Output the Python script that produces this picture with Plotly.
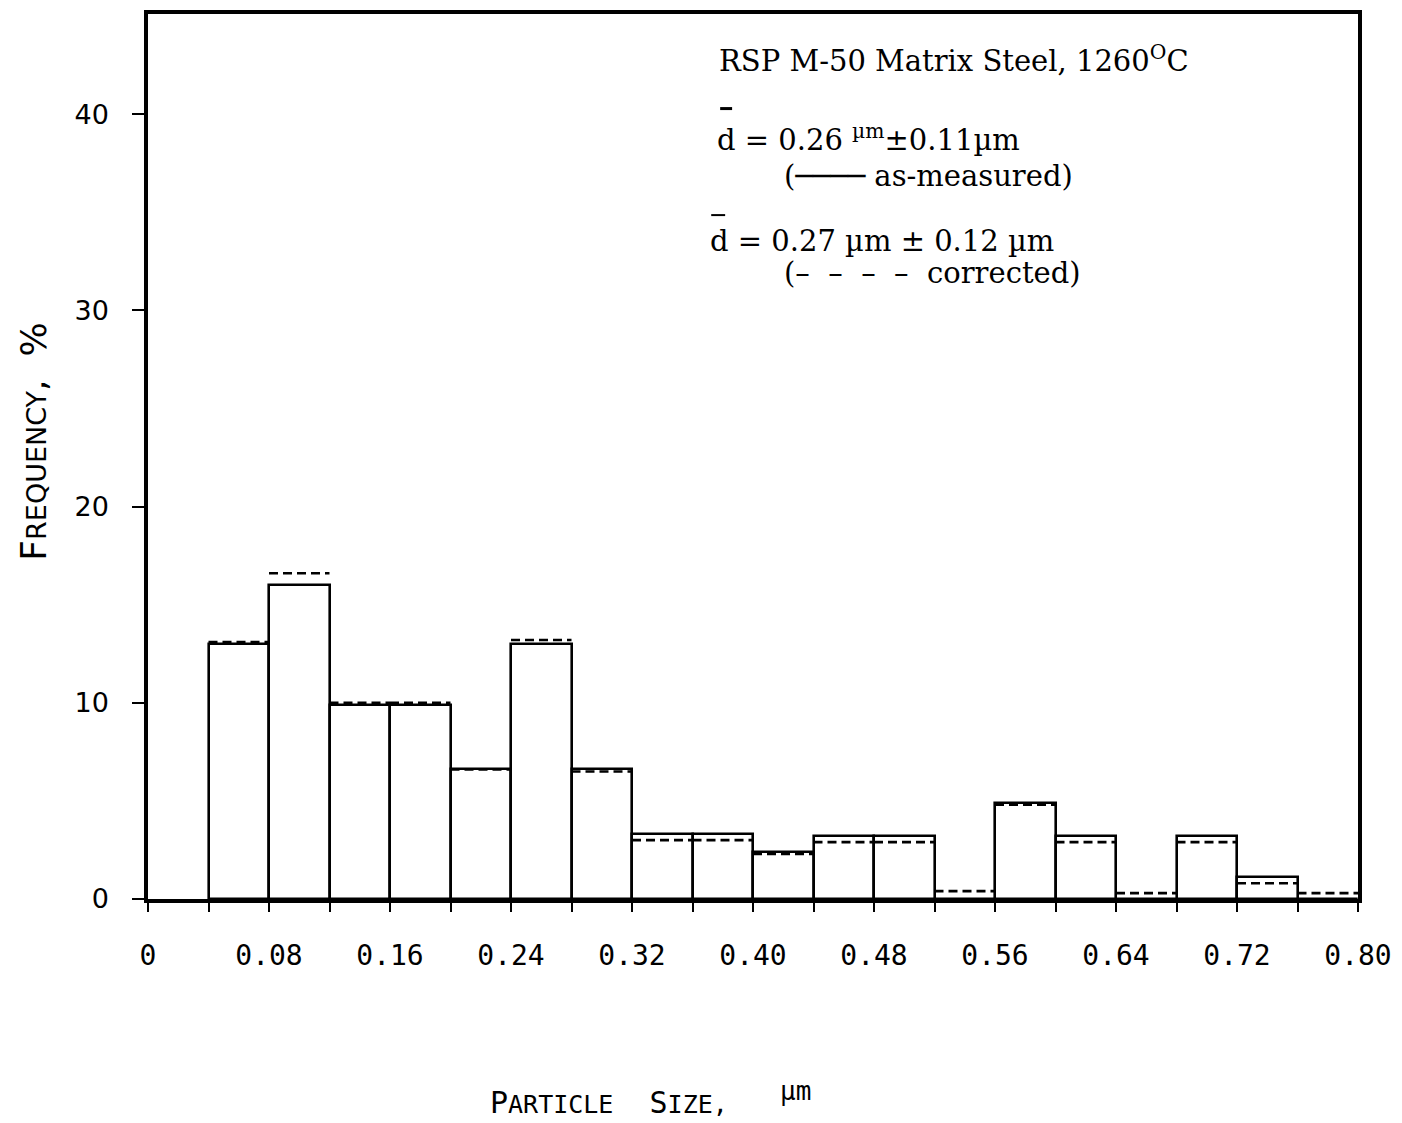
import plotly.graph_objects as go

# ---------------- data ----------------
bin_left = [0.04, 0.08, 0.12, 0.16, 0.20, 0.24, 0.28, 0.32, 0.36, 0.40,
            0.44, 0.48, 0.52, 0.56, 0.60, 0.64, 0.68, 0.72, 0.76]
bin_width = 0.04
as_measured = [13.0, 16.0, 9.9, 9.9, 6.6, 13.0, 6.6, 3.3, 3.3, 2.4,
               3.2, 3.2, 0.0, 4.9, 3.2, 0.0, 3.2, 1.1, 0.0]
corrected = [13.1, 16.6, 10.0, 10.0, 6.6, 13.2, 6.5, 3.0, 3.0, 2.3,
             2.9, 2.9, 0.4, 4.8, 2.9, 0.3, 2.9, 0.8, 0.3]
x_tick_vals = [0, 0.08, 0.16, 0.24, 0.32, 0.40, 0.48, 0.56, 0.64, 0.72, 0.80]
x_tick_text = ["0", "0.08", "0.16", "0.24", "0.32", "0.40", "0.48", "0.56", "0.64", "0.72", "0.80"]
y_tick_vals = [0, 10, 20, 30, 40]
y_tick_text = ["0", "10", "20", "30", "40"]

# ---------------- figure ----------------
W, H = 1402, 1123
L, R, T, B = 148, 1402 - 1364, 10, 1123 - 899

def px(x):
    return (x - L) / (W - L - R)

def py(y):
    return (899 - y) / (H - T - B)

centers = [l + bin_width / 2 for l in bin_left]

fig = go.Figure()
fig.add_trace(go.Bar(
    x=centers, y=as_measured, width=[bin_width] * len(centers),
    marker=dict(color="white", line=dict(color="black", width=2.6)),
    showlegend=False, hoverinfo="skip",
))

seg_x, seg_y = [], []
for l, v in zip(bin_left, corrected):
    seg_x += [l, l + bin_width, None]
    seg_y += [v, v, None]
fig.add_trace(go.Scatter(
    x=seg_x, y=seg_y, mode="lines",
    line=dict(color="black", width=2.6, dash="9px,5px"),
    showlegend=False, hoverinfo="skip",
))

serif = "DejaVu Serif, serif"
sansmono = "DejaVu Sans Mono, monospace"
narrow = "Liberation Sans Narrow, DejaVu Sans, sans-serif"

annotations = [
    dict(text="RSP M-50 Matrix Steel, 1260<sup>O</sup>C", x=px(720), y=py(55),
         xanchor="left", yanchor="middle", font=dict(family=serif, size=29)),
    dict(text="d = 0.26 <sup>µm</sup>±0.11µm", x=px(718), y=py(135),
         xanchor="left", yanchor="middle", font=dict(family=serif, size=29)),
    dict(text="(──── as-measured)", x=px(785), y=py(173),
         xanchor="left", yanchor="middle", font=dict(family=serif, size=29)),
    dict(text="d = 0.27 µm ± 0.12 µm", x=px(711), y=py(238),
         xanchor="left", yanchor="middle", font=dict(family=serif, size=29)),
    dict(text="(–  –  –  –  corrected)", x=px(785), y=py(270),
         xanchor="left", yanchor="middle", font=dict(family=serif, size=29)),
    # axis titles
    dict(text="F<span style='font-size:27px'>REQUENCY</span>,  %", x=px(32), y=py(440),
         textangle=-90, xanchor="center", yanchor="middle",
         font=dict(family=narrow, size=36)),
    dict(text="P<span style='font-size:25px'>ARTICLE</span>  S<span style='font-size:25px'>IZE,</span>",
         x=px(490), y=py(1103), xanchor="left", yanchor="middle",
         font=dict(family=sansmono, size=30)),
    dict(text="µm", x=px(781), y=py(1092), xanchor="left", yanchor="middle",
         font=dict(family=sansmono, size=26)),
]
for a in annotations:
    a.update(xref="paper", yref="paper", showarrow=False)
    a["font"]["color"] = "black"

shapes = [
    dict(type="line", xref="paper", yref="paper", x0=px(723), x1=px(735), y0=py(105), y1=py(105),
         line=dict(color="black", width=3)),
    dict(type="line", xref="paper", yref="paper", x0=px(714), x1=px(728), y0=py(212), y1=py(212),
         line=dict(color="black", width=2)),
]

fig.update_layout(
    width=W, height=H,
    margin=dict(l=L, r=R, t=T, b=B, pad=0),
    paper_bgcolor="white", plot_bgcolor="white",
    bargap=0,
    annotations=annotations,
    shapes=shapes,
    xaxis=dict(
        range=[0, 0.8], showgrid=False, zeroline=False,
        showline=True, linecolor="black", linewidth=3.5, mirror=True,
        tickmode="array", tickvals=x_tick_vals, ticktext=x_tick_text,
        ticks="outside", ticklen=9, tickwidth=2, tickcolor="black",
        minor=dict(dtick=0.04, tick0=0, ticks="outside", ticklen=9, tickwidth=2,
                   tickcolor="black", showgrid=False),
        ticklabelstandoff=20,
        tickfont=dict(family=sansmono, size=28, color="black"),
    ),
    yaxis=dict(
        range=[0, 45.1], showgrid=False, zeroline=False,
        showline=True, linecolor="black", linewidth=3.5, mirror=True,
        tickmode="array", tickvals=y_tick_vals, ticktext=y_tick_text,
        ticks="outside", ticklen=12, tickwidth=2, tickcolor="black",
        ticklabelstandoff=18,
        tickfont=dict(family="DejaVu Sans, sans-serif", size=27, color="black"),
    ),
)

fig.write_html("out.html")
